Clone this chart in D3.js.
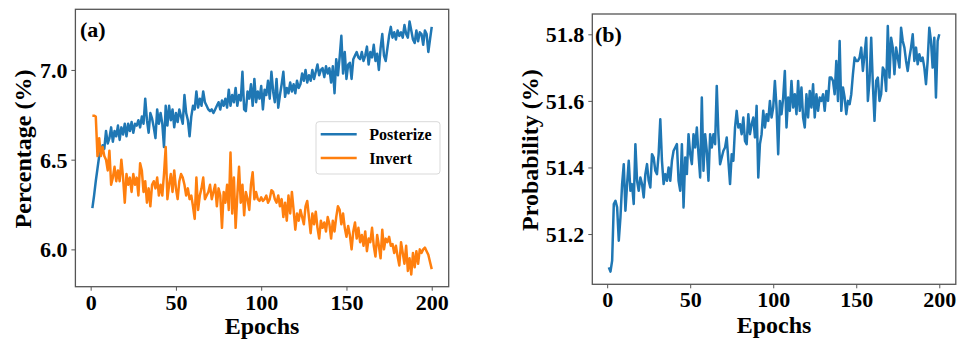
<!DOCTYPE html>
<html>
<head>
<meta charset="utf-8">
<script src="https://cdn.jsdelivr.net/npm/d3@7"></script>
<style>
html,body{margin:0;padding:0;background:#fff;}
svg{display:block;}
text{font-family:"Liberation Serif","Times New Roman",serif;font-weight:bold;fill:#000;}
</style>
</head>
<body>
<svg id="chart" width="958" height="342"></svg>
<script>
// ---------- data ----------
const epochs = d3.range(1, 201);

const posterize = [
6.23,6.30,6.38,6.45,6.52,6.55,6.58,6.56,6.66,6.59,
6.62,6.68,6.60,6.66,6.63,6.69,6.61,6.68,6.64,6.70,
6.63,6.70,6.66,6.71,6.65,6.70,6.69,6.72,6.68,6.74,
6.70,6.84,6.72,6.65,6.76,6.73,6.68,6.62,6.78,6.70,
6.76,6.70,6.57,6.80,6.69,6.80,6.72,6.78,6.68,6.76,
6.71,6.78,6.74,6.70,6.86,6.76,6.72,6.63,6.74,6.80,
6.78,6.88,6.79,6.84,6.80,6.88,6.82,6.80,6.78,6.77,
6.78,6.76,6.78,6.80,6.82,6.78,6.83,6.80,6.84,6.79,
6.89,6.80,6.86,6.82,6.90,6.80,6.86,6.83,6.99,6.78,
6.77,6.88,6.84,6.92,6.80,6.95,6.82,6.88,6.84,6.91,
6.78,6.89,6.86,6.94,6.84,6.99,6.88,6.82,6.95,6.79,
6.86,6.92,6.99,6.85,6.90,6.87,6.93,6.88,6.92,6.87,
6.94,6.90,6.92,6.98,6.94,7.00,6.93,6.97,6.94,7.00,
6.95,6.99,7.03,6.97,7.00,7.01,6.96,7.02,6.98,7.01,
6.93,7.02,6.87,7.06,6.97,7.07,7.19,6.98,7.10,6.95,
7.03,7.04,6.95,7.06,7.08,7.10,7.07,7.06,7.10,7.05,
7.08,7.13,7.03,7.10,7.07,7.14,7.05,7.09,7.00,7.12,
7.20,7.08,7.05,7.12,7.19,7.24,7.18,7.21,7.17,7.22,
7.19,7.21,7.18,7.25,7.20,7.18,7.27,7.22,7.17,7.15,
7.22,7.16,7.21,7.20,7.14,7.22,7.20,7.10,7.17,7.24
];

const invert = [
6.745,6.745,6.74,6.52,6.62,6.52,6.57,6.52,6.50,6.44,
6.55,6.36,6.40,6.46,6.38,6.44,6.38,6.50,6.40,6.26,
6.42,6.36,6.40,6.32,6.42,6.36,6.40,6.30,6.48,6.44,
6.32,6.38,6.26,6.34,6.24,6.36,6.38,6.34,6.40,6.30,
6.36,6.30,6.42,6.57,6.28,6.36,6.42,6.32,6.44,6.34,
6.28,6.38,6.42,6.40,6.36,6.30,6.34,6.28,6.30,6.24,
6.17,6.40,6.22,6.30,6.34,6.40,6.28,6.30,6.32,6.36,
6.28,6.32,6.36,6.24,6.34,6.30,6.12,6.32,6.26,6.36,
6.22,6.54,6.20,6.40,6.12,6.30,6.46,6.26,6.36,6.19,
6.32,6.28,6.22,6.36,6.43,6.28,6.32,6.28,6.27,6.29,
6.27,6.28,6.30,6.26,6.28,6.33,6.32,6.28,6.26,6.30,
6.24,6.28,6.18,6.26,6.16,6.30,6.20,6.32,6.22,6.11,
6.20,6.16,6.22,6.18,6.14,6.24,6.27,6.18,6.09,6.20,
6.14,6.21,6.12,6.06,6.16,6.12,6.15,6.10,6.18,6.14,
6.06,6.16,6.10,6.18,6.24,6.22,6.14,6.20,6.12,6.07,
6.13,6.08,6.00,6.10,6.15,6.06,6.12,6.04,6.08,6.02,
6.10,5.99,6.06,6.04,6.12,6.02,5.96,6.08,6.02,5.95,
6.11,6.00,6.06,6.04,6.07,6.02,6.03,5.98,6.02,5.96,
5.91,6.04,5.98,5.92,6.02,5.88,5.95,5.86,5.98,5.90,
5.99,5.92,6.00,5.98,6.00,6.01,5.99,5.97,5.93,5.89
];

const probability = [
51.10,51.087,51.12,51.29,51.30,51.28,51.18,51.25,51.35,51.41,
51.27,51.35,51.42,51.33,51.35,51.29,51.47,51.36,51.33,51.37,
51.35,51.31,51.38,51.41,51.36,51.34,51.44,51.43,51.39,51.38,
51.44,51.545,51.42,51.35,51.38,51.36,51.40,51.36,51.42,51.45,
51.46,51.47,51.36,51.33,51.47,51.28,51.43,51.38,51.50,51.44,
51.41,51.50,51.46,51.52,51.44,51.37,51.61,51.39,51.50,51.45,
51.36,51.50,51.46,51.50,51.47,51.645,51.50,51.41,51.43,51.45,
51.46,51.49,51.42,51.35,51.44,51.42,51.52,51.57,51.52,51.53,
51.50,51.55,51.48,51.47,51.56,51.50,51.53,51.55,51.49,51.585,
51.37,51.47,51.50,51.57,51.52,51.56,51.54,51.60,51.55,51.58,
51.66,51.58,51.44,51.60,51.56,51.61,51.69,51.52,51.61,51.57,
51.66,51.58,51.62,51.56,51.66,51.57,51.64,51.55,51.52,51.62,
51.55,51.63,51.58,51.65,51.55,51.62,51.57,51.61,51.60,51.62,
51.57,51.63,51.60,51.67,51.67,51.66,51.62,51.72,51.60,51.78,
51.57,51.64,51.61,51.56,51.60,51.59,51.62,51.68,51.73,51.72,
51.72,51.73,51.76,51.69,51.74,51.79,51.60,51.66,51.79,51.65,
51.54,51.66,51.67,51.60,51.62,51.70,51.69,51.63,51.825,51.67,
51.79,51.76,51.68,51.76,51.73,51.70,51.82,51.78,51.76,51.72,
51.69,51.73,51.76,51.80,51.72,51.76,51.71,51.74,51.72,51.73,
51.70,51.65,51.72,51.82,51.78,51.70,51.79,51.61,51.78,51.80
];

const xTicks = [0, 50, 100, 150, 200];
const yTicksA = [6.0, 6.5, 7.0];
const yTicksB = [51.2, 51.4, 51.6, 51.8];
const seriesNames = ["Posterize", "Invert"];
const colors = ["#1f77b4", "#ff7f0e"];

// ---------- drawing ----------
const svg = d3.select("#chart");
const frameColor = "#555";

function panel(opts) {
  const g = svg.append("g");
  const x = d3.scaleLinear().domain([-8.95, 209.95]).range([opts.left, opts.right]);
  const y = d3.scaleLinear().domain(opts.yDomain).range([opts.bottom, opts.top]);

  opts.series.forEach((s) => {
    const line = d3.line().x((d, j) => x(epochs[j])).y(d => y(d));
    g.append("path").datum(s.values)
      .attr("fill", "none").attr("stroke", s.color)
      .attr("stroke-width", 2.5).attr("stroke-linejoin", "round")
      .attr("d", line);
  });

  const xAxis = d3.axisBottom(x).tickValues(xTicks).tickFormat(d3.format("d")).tickSize(4).tickPadding(4);
  const gx = g.append("g").attr("transform", `translate(0,${opts.bottom})`).call(xAxis);
  const yAxis = d3.axisLeft(y).tickValues(opts.yTicks).tickFormat(d3.format(".1f")).tickSize(4).tickPadding(4);
  const gy = g.append("g").attr("transform", `translate(${opts.left},0)`).call(yAxis);
  [gx, gy].forEach(a => {
    a.select(".domain").remove();
    a.selectAll(".tick line").attr("stroke", frameColor).attr("stroke-width", 1);
    a.selectAll(".tick text").style("font-family", '"Liberation Serif", serif')
      .style("font-weight", "bold").style("font-size", "22px").attr("fill", "#000");
  });
  gx.selectAll(".tick text").attr("dy", "0.68em");
  gy.selectAll(".tick text").attr("dy", "0.34em");

  g.append("rect").attr("x", opts.left).attr("y", opts.top)
    .attr("width", opts.right - opts.left).attr("height", opts.bottom - opts.top)
    .attr("fill", "none").attr("stroke", frameColor).attr("stroke-width", 1.3);

  g.append("text").attr("x", (opts.left + opts.right) / 2).attr("y", opts.xLabelY)
    .attr("text-anchor", "middle").style("font-size", "24px").text("Epochs");
  g.append("text").attr("transform", `translate(${opts.yLabelX},${(opts.top + opts.bottom) / 2 + 1}) rotate(-90)`)
    .attr("text-anchor", "middle").style("font-size", "24px").text(opts.yLabel);
  g.append("text").attr("x", opts.tagX).attr("y", opts.tagY)
    .style("font-size", "22px").text(opts.tag);
  return {g, x, y};
}

panel({
  left: 75.4, right: 448.7, top: 9.3, bottom: 286.7,
  yDomain: [5.792, 7.338], yTicks: yTicksA,
  series: [{values: posterize, color: colors[0]}, {values: invert, color: colors[1]}],
  xLabelY: 334, yLabelX: 31, yLabel: "Percentage (%)", tag: "(a)", tagX: 80, tagY: 37
});

panel({
  left: 592.3, right: 955.8, top: 14, bottom: 284.3,
  yDomain: [51.049, 51.861], yTicks: yTicksB,
  series: [{values: probability, color: colors[0]}],
  xLabelY: 332.5, yLabelX: 538, yLabel: "Probability (%)", tag: "(b)", tagX: 595, tagY: 42
});

// legend (panel a)
const lg = svg.append("g");
lg.append("rect").attr("x", 316).attr("y", 121.7).attr("width", 124).attr("height", 52.3)
  .attr("rx", 3).attr("fill", "#fff").attr("fill-opacity", 0.85)
  .attr("stroke", "#d9d9d9").attr("stroke-width", 1);
seriesNames.forEach((n, i) => {
  const yy = 134.3 + i * 23.7;
  lg.append("line").attr("x1", 320.7).attr("x2", 356.7).attr("y1", yy).attr("y2", yy)
    .attr("stroke", colors[i]).attr("stroke-width", 2.5);
  lg.append("text").attr("x", 369.3).attr("y", yy + 5.8).style("font-size", "16px").text(n);
});
</script>
</body>
</html>
